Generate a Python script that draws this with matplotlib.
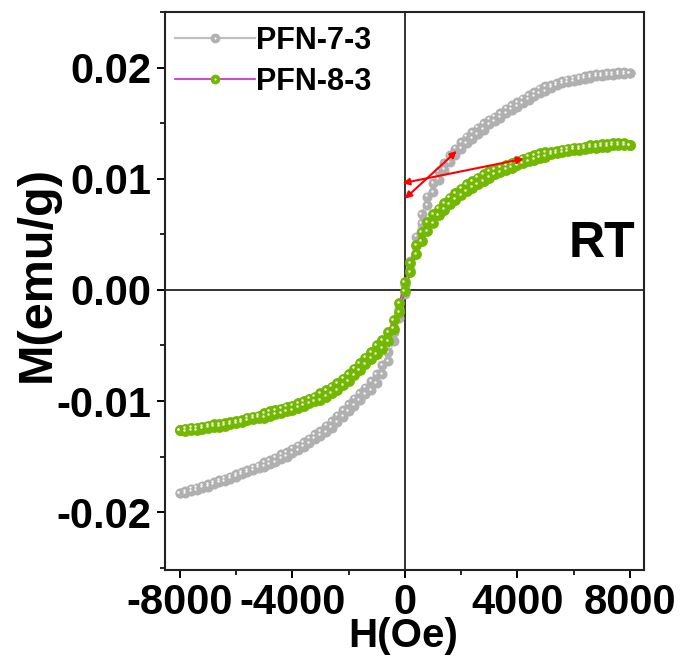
import matplotlib
matplotlib.use("Agg")
import matplotlib.pyplot as plt
from matplotlib.lines import Line2D
from matplotlib.legend_handler import HandlerTuple
from matplotlib.ticker import MultipleLocator, FormatStrFormatter
import matplotlib.transforms as mtransforms

plt.rcParams['font.family'] = ['Liberation Sans', 'DejaVu Sans']
plt.rcParams['font.weight'] = 'bold'
plt.rcParams['axes.unicode_minus'] = False

# ---------------- data ----------------
H = [-8000, -7800, -7600, -7400, -7200, -7000, -6800, -6600, -6400, -6200,
     -6000, -5800, -5600, -5400, -5200, -5000, -4800, -4600, -4400, -4200,
     -4000, -3800, -3600, -3400, -3200, -3000, -2800, -2600, -2400, -2200,
     -2000, -1800, -1600, -1400, -1200, -1000, -800, -600, -400, -200,
     0,
     200, 400, 600, 800, 1000, 1200, 1400, 1600, 1800, 2000,
     2200, 2400, 2600, 2800, 3000, 3200, 3400, 3600, 3800, 4000,
     4200, 4400, 4600, 4800, 5000, 5200, 5400, 5600, 5800, 6000,
     6200, 6400, 6600, 6800, 7000, 7200, 7400, 7600, 7800, 8000]

# PFN-7-3, descending-field branch (listed in ascending H order)
pfn73_desc = [-0.0183, -0.0181, -0.0179, -0.0178, -0.0176, -0.0175, -0.0173, -0.0171, -0.0170, -0.0168,
              -0.0166, -0.0164, -0.0162, -0.0160, -0.0158, -0.0155, -0.0153, -0.0151, -0.0148, -0.0146,
              -0.0143, -0.0140, -0.0137, -0.0134, -0.0130, -0.0127, -0.0122, -0.0118, -0.0113, -0.0108,
              -0.0103, -0.0098, -0.0093, -0.0088, -0.0082, -0.0076, -0.0068, -0.0056, -0.0038, -0.0017,
              0.0004,
              0.0026, 0.0048, 0.0068, 0.0084, 0.0096, 0.0107, 0.0114, 0.0121, 0.0127, 0.0133,
              0.0138, 0.0142, 0.0146, 0.0150, 0.0153, 0.0156, 0.0159, 0.0163, 0.0166, 0.0169,
              0.0172, 0.0175, 0.0178, 0.0181, 0.0183, 0.0184, 0.0186, 0.0188, 0.0189, 0.0190,
              0.0191, 0.0192, 0.0193, 0.0194, 0.0194, 0.0195, 0.0195, 0.0196, 0.0196, 0.0195]
# PFN-7-3, ascending-field branch
pfn73_asc = [-0.0183, -0.0183, -0.0181, -0.0180, -0.0178, -0.0177, -0.0175, -0.0173, -0.0172, -0.0170,
             -0.0168, -0.0166, -0.0164, -0.0162, -0.0160, -0.0159, -0.0157, -0.0155, -0.0152, -0.0150,
             -0.0147, -0.0144, -0.0141, -0.0138, -0.0134, -0.0131, -0.0128, -0.0124, -0.0119, -0.0114,
             -0.0109, -0.0104, -0.0099, -0.0094, -0.0090, -0.0084, -0.0076, -0.0064, -0.0046, -0.0025,
             -0.0004,
             0.0018, 0.0040, 0.0060, 0.0076, 0.0088, 0.0099, 0.0108, 0.0115, 0.0121, 0.0127,
             0.0132, 0.0136, 0.0140, 0.0144, 0.0149, 0.0152, 0.0155, 0.0159, 0.0162, 0.0165,
             0.0168, 0.0171, 0.0174, 0.0177, 0.0179, 0.0182, 0.0184, 0.0186, 0.0187, 0.0188,
             0.0189, 0.0190, 0.0191, 0.0192, 0.0192, 0.0193, 0.0193, 0.0194, 0.0194, 0.0195]

# PFN-8-3, descending-field branch
pfn83_desc = [-0.0126, -0.0125, -0.0124, -0.0124, -0.0123, -0.0122, -0.0121, -0.0121, -0.0120, -0.0119,
              -0.0118, -0.0117, -0.0115, -0.0114, -0.0113, -0.0111, -0.0109, -0.0108, -0.0107, -0.0105,
              -0.0104, -0.0102, -0.0100, -0.0098, -0.0096, -0.0093, -0.0090, -0.0087, -0.0084, -0.0080,
              -0.0076, -0.0071, -0.0066, -0.0061, -0.0056, -0.0050, -0.0045, -0.0038, -0.0027, -0.0012,
              0.0007,
              0.0024, 0.0040, 0.0052, 0.0061, 0.0068, 0.0073, 0.0078, 0.0083, 0.0087, 0.0091,
              0.0095, 0.0098, 0.0101, 0.0104, 0.0107, 0.0108, 0.0110, 0.0112, 0.0114, 0.0116,
              0.0118, 0.0120, 0.0121, 0.0123, 0.0124, 0.0124, 0.0125, 0.0126, 0.0127, 0.0128,
              0.0128, 0.0129, 0.0130, 0.0130, 0.0131, 0.0131, 0.0132, 0.0132, 0.0132, 0.0130]
# PFN-8-3, ascending-field branch
pfn83_asc = [-0.0126, -0.0127, -0.0126, -0.0126, -0.0125, -0.0124, -0.0123, -0.0123, -0.0122, -0.0121,
             -0.0120, -0.0119, -0.0117, -0.0116, -0.0115, -0.0115, -0.0113, -0.0112, -0.0111, -0.0109,
             -0.0108, -0.0106, -0.0104, -0.0102, -0.0100, -0.0099, -0.0096, -0.0093, -0.0090, -0.0086,
             -0.0082, -0.0077, -0.0072, -0.0067, -0.0062, -0.0058, -0.0053, -0.0046, -0.0035, -0.0020,
             -0.0001,
             0.0016, 0.0032, 0.0044, 0.0053, 0.0060, 0.0067, 0.0072, 0.0077, 0.0081, 0.0085,
             0.0089, 0.0092, 0.0095, 0.0098, 0.0101, 0.0104, 0.0106, 0.0108, 0.0110, 0.0112,
             0.0114, 0.0116, 0.0117, 0.0119, 0.0120, 0.0122, 0.0123, 0.0124, 0.0125, 0.0126,
             0.0126, 0.0127, 0.0128, 0.0128, 0.0129, 0.0129, 0.0130, 0.0130, 0.0130, 0.0130]

labels = ['PFN-7-3', 'PFN-8-3']
x_ticks = [-8000, -4000, 0, 4000, 8000]
y_ticks = [-0.02, -0.01, 0.00, 0.01, 0.02]

# annotation arrows (start, end) in data coords
arrow_a = [(0, 0.0082), (1850, 0.0125)]
arrow_b = [(-80, 0.0096), (4230, 0.0118)]

# ---------------- figure ----------------
fig = plt.figure(figsize=(6.93, 6.57), dpi=100)
ax = fig.add_axes([0.238, 0.1324, 0.691, 0.8493])

ax.set_xlim(-8530, 8500)
ax.set_ylim(-0.0252, 0.0250)

ax.axhline(0, color='#333333', lw=1.4, zorder=1)
ax.axvline(0, color='#333333', lw=1.4, zorder=1)

hl = mtransforms.offset_copy(ax.transData, fig=fig, x=-1.4, y=1.4, units='dots')

gray = '#b0b0b0'
green = '#72b800'

def loop(desc, asc):
    xs = list(reversed(H)) + H
    ys = list(reversed(desc)) + asc
    return xs, ys

xs, ys = loop(pfn73_desc, pfn73_asc)
ax.plot(xs, ys, color='#c8c8c8', lw=1.0, zorder=2)
ax.plot(xs, ys, ls='none', marker='o', ms=7.2, mfc=gray, mec=gray, mew=0, zorder=3)
ax.plot(xs, ys, ls='none', marker='o', ms=1.7, mfc='white', mec='white', mew=0,
        alpha=0.9, zorder=3.1, transform=hl)

xs, ys = loop(pfn83_desc, pfn83_asc)
ax.plot(xs, ys, color='#cc22cc', lw=1.0, zorder=4)
ax.plot(xs, ys, ls='none', marker='o', ms=7.8, mfc=green, mec=green, mew=0, zorder=5)
ax.plot(xs, ys, ls='none', marker='o', ms=1.8, mfc='white', mec='white', mew=0,
        alpha=0.9, zorder=5.1, transform=hl)

for a in (arrow_a, arrow_b):
    ax.annotate('', xy=a[1], xytext=a[0],
                arrowprops=dict(arrowstyle='<|-|>', color='red', lw=1.5,
                                mutation_scale=10, shrinkA=0, shrinkB=0),
                zorder=8)

ax.text(7000, 0.0041, 'RT', fontsize=36, fontweight='bold', ha='center', va='center')

# axes styling
for s in ax.spines.values():
    s.set_linewidth(1.5)
    s.set_color('#222222')
ax.set_xticks(x_ticks)
ax.set_yticks(y_ticks)
ax.xaxis.set_minor_locator(MultipleLocator(2000))
ax.yaxis.set_minor_locator(MultipleLocator(0.005))
ax.yaxis.set_major_formatter(FormatStrFormatter('%.2f'))
ax.tick_params(which='major', direction='out', length=6, width=1.4, labelsize=30, pad=4)
ax.tick_params(which='minor', direction='out', length=3.5, width=1.2)
ax.tick_params(axis='x', which='major', pad=3)
for lab in ax.get_xticklabels() + ax.get_yticklabels():
    lab.set_fontweight('bold')

ax.set_xlabel('H(Oe)', fontsize=29, fontweight='bold', va='top')
ax.xaxis.set_label_coords(0.497, -0.085)
ax.set_ylabel('M(emu/g)', fontsize=35, fontweight='bold', va='center')
ax.yaxis.set_label_coords(-0.267, 0.53)

# legend
h1 = (Line2D([], [], color='#c0c0c0', lw=1.6),
      Line2D([], [], ls='none', marker='o', ms=7, mfc=gray, mec=gray, mew=0),
      Line2D([], [], ls='none', marker='o', ms=1.5, mfc='white', mec='white', mew=0))
h2 = (Line2D([], [], color='#cc22cc', lw=1.2),
      Line2D([], [], ls='none', marker='o', ms=7, mfc=green, mec=green, mew=0),
      Line2D([], [], ls='none', marker='o', ms=1.5, mfc='white', mec='white', mew=0))
leg = ax.legend([h1, h2], labels, handler_map={tuple: HandlerTuple(ndivide=1, pad=0)},
                loc='upper left', bbox_to_anchor=(0.022, 0.975), frameon=False,
                prop={'size': 22, 'weight': 'bold'}, handlelength=2.6, handletextpad=0.05,
                labelspacing=0.35, borderpad=0, borderaxespad=0)

fig.savefig('out.png', dpi=100)
